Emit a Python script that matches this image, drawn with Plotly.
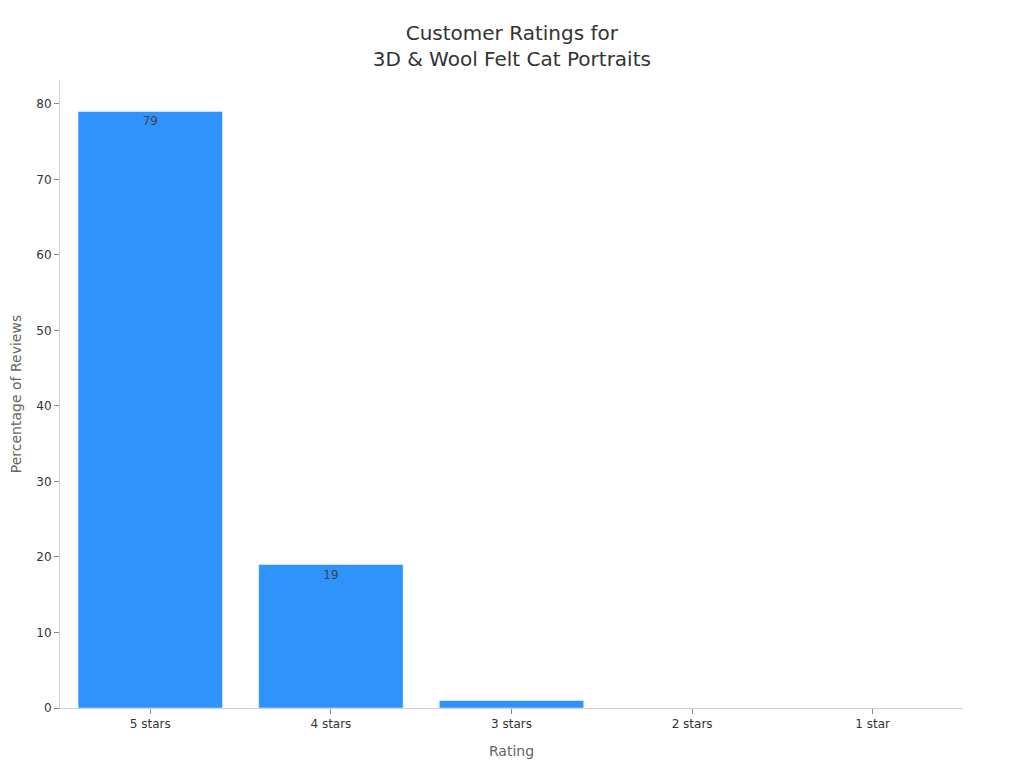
import plotly.graph_objects as go

ratings = ["5 stars", "4 stars", "3 stars", "2 stars", "1 star"]
percentages = [79, 19, 1, 0, 0]

fig = go.Figure(
    go.Bar(
        x=ratings,
        y=percentages,
        text=percentages,
        textposition="inside",
        insidetextanchor="end",
        textfont=dict(color="#444444", size=12),
        marker=dict(color="#2E93FA", line=dict(color="rgba(255,255,255,0.5)", width=1)),
    )
)

# page body adds an 8px offset, so the margins are shifted to compensate
fig.update_layout(
    width=1024,
    height=768,
    template="simple_white",
    font=dict(family="DejaVu Sans", color="#333333"),
    title=dict(
        text="Customer Ratings for<br>3D & Wool Felt Cat Portraits",
        x=0.492,
        xanchor="center",
        yref="container",
        y=0.958,
        yanchor="top",
        font=dict(size=20, color="#333333"),
    ),
    margin=dict(l=52, r=69, t=72, b=68),
    showlegend=False,
    xaxis=dict(
        title=dict(text="Rating", font=dict(size=14, color="#666666")),
        linecolor="#d0d0d0",
        tickcolor="#888888",
        tickfont=dict(size=12),
        automargin=False,
    ),
    yaxis=dict(
        title=dict(text="Percentage of Reviews", font=dict(size=14, color="#666666")),
        linecolor="#d0d0d0",
        tickcolor="#888888",
        tickfont=dict(size=12),
        dtick=10,
        automargin=False,
    ),
)

fig.write_html("out.html")
